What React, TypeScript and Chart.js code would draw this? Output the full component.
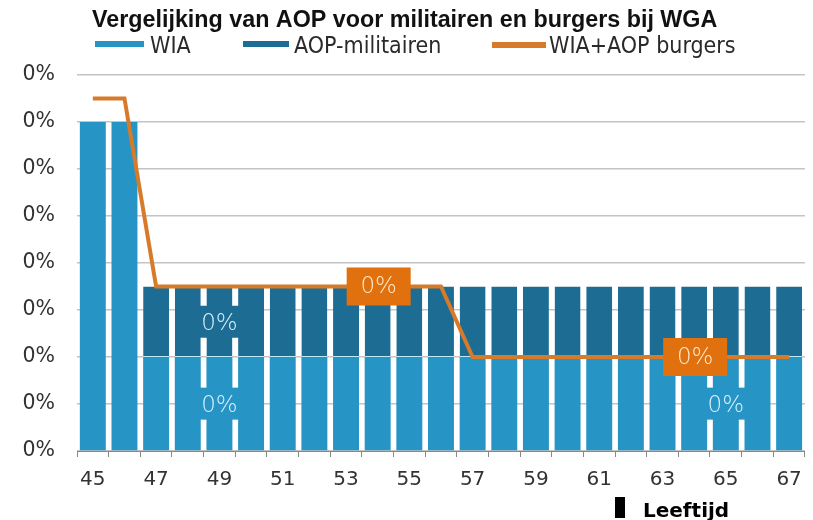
import React, { useEffect, useRef } from "react";
import { Chart, registerables } from "chart.js";

Chart.register(...registerables);

const chartTitle = "Vergelijking van AOP voor militairen en burgers bij WGA";
const axisTitle = "Leeftijd";
const categories = ["45", "46", "47", "48", "49", "50", "51", "52", "53", "54", "55", "56", "57", "58", "59", "60", "61", "62", "63", "64", "65", "66", "67"];
const wiaValues = [0.0035, 0.0035, 0.001, 0.001, 0.001, 0.001, 0.001, 0.001, 0.001, 0.001, 0.001, 0.001, 0.001, 0.001, 0.001, 0.001, 0.001, 0.001, 0.001, 0.001, 0.001, 0.001, 0.001];
const aopMilitairenValues = [0, 0, 0.00075, 0.00075, 0.00075, 0.00075, 0.00075, 0.00075, 0.00075, 0.00075, 0.00075, 0.00075, 0.00075, 0.00075, 0.00075, 0.00075, 0.00075, 0.00075, 0.00075, 0.00075, 0.00075, 0.00075, 0.00075];
const burgersValues = [0.00375, 0.00375, 0.00175, 0.00175, 0.00175, 0.00175, 0.00175, 0.00175, 0.00175, 0.00175, 0.00175, 0.00175, 0.001, 0.001, 0.001, 0.001, 0.001, 0.001, 0.001, 0.001, 0.001, 0.001, 0.001];
const wiaLabelIdx = [4, 20];
const aopLabelIdx = [4];
const burgersLabelIdx = [9, 19];
const yMax = 0.004;
const yStep = 0.0005;

const WIA_COLOR = "#2695c6";
const AOP_COLOR = "#1c6c93";
const LINE_COLOR = "#d77a2a";
const BOX_COLOR = "#e0710e";

const pct = (v: number) => (v * 100).toFixed(0) + "%";

export default function App() {
  const ref = useRef<HTMLCanvasElement | null>(null);
  useEffect(() => {
    document.body.style.margin = "0";
    const canvas = ref.current!;
    const decor = {
      id: "decor",
      afterDatasetsDraw(chart: any) {
        const ctx = chart.ctx;
        ctx.save();
        ctx.textAlign = "center";
        ctx.textBaseline = "middle";
        ctx.font = "200 23px 'DejaVu Sans'";
        const drawBarLabel = (dsIndex: number, idxs: number[], bg: string, fg: string) => {
          const meta = chart.getDatasetMeta(dsIndex);
          idxs.forEach((i) => {
            const el: any = meta.data[i];
            const cy = (el.y + el.base) / 2;
            const v = chart.data.datasets[dsIndex].data[i];
            ctx.fillStyle = bg;
            ctx.fillRect(el.x - 26, cy - 16, 52, 32);
            ctx.fillStyle = fg;
            ctx.fillText(pct(v), el.x, cy + 2);
          });
        };
        drawBarLabel(0, wiaLabelIdx, WIA_COLOR, "#d8f2ff");
        drawBarLabel(1, aopLabelIdx, AOP_COLOR, "#d8f2ff");
        const lm = chart.getDatasetMeta(2);
        burgersLabelIdx.forEach((i) => {
          const el: any = lm.data[i];
          const v = chart.data.datasets[2].data[i];
          ctx.fillStyle = BOX_COLOR;
          ctx.fillRect(el.x - 31, el.y - 19, 64, 38);
          ctx.fillStyle = "#ffe9cc";
          ctx.fillText(pct(v), el.x + 1, el.y + 1);
        });
        ctx.restore();
      },
      afterDraw(chart: any) {
        const ctx = chart.ctx;
        ctx.save();
        ctx.fillStyle = "#111";
        ctx.textBaseline = "alphabetic";
        ctx.textAlign = "left";
        ctx.font = "bold 23.3px 'Liberation Sans Narrow', 'Liberation Sans'";
        ctx.fillText(chartTitle, 92, 27);
        // legend
        ctx.font = "23px 'DejaVu Sans Condensed', 'DejaVu Sans'";
        ctx.fillStyle = WIA_COLOR;
        ctx.fillRect(95, 41, 49, 6);
        ctx.fillStyle = "#2a2a2a";
        ctx.fillText("WIA", 150, 53);
        ctx.fillStyle = AOP_COLOR;
        ctx.fillRect(243, 41, 46, 6);
        ctx.fillStyle = "#2a2a2a";
        ctx.fillText("AOP-militairen", 294, 53);
        ctx.fillStyle = LINE_COLOR;
        ctx.fillRect(492, 42, 54, 6);
        ctx.fillStyle = "#2a2a2a";
        ctx.fillText("WIA+AOP burgers", 549, 53);
        // axis title
        ctx.fillStyle = "#000";
        ctx.fillRect(615, 497, 10, 21);
        ctx.font = "bold 20px 'DejaVu Sans'";
        ctx.fillText(axisTitle, 643, 517);
        ctx.restore();
      },
    };
    const chart = new Chart(canvas, {
      type: "bar",
      data: {
        labels: categories,
        datasets: [
          {
            type: "bar",
            label: "WIA",
            data: wiaValues,
            backgroundColor: WIA_COLOR,
            stack: "bars",
            order: 2,
          } as any,
          {
            type: "bar",
            label: "AOP-militairen",
            data: aopMilitairenValues,
            backgroundColor: AOP_COLOR,
            borderColor: "#bfeaf7",
            borderWidth: { bottom: 1, top: 0, left: 0, right: 0 },
            borderSkipped: false,
            stack: "bars",
            order: 2,
          } as any,
          {
            type: "line",
            label: "WIA+AOP burgers",
            data: burgersValues,
            borderColor: LINE_COLOR,
            backgroundColor: LINE_COLOR,
            borderWidth: 4,
            pointRadius: 0,
            tension: 0,
            stack: "line",
            order: 0,
          } as any,
        ],
      },
      options: {
        animation: false,
        responsive: false,
        maintainAspectRatio: false,
        layout: { padding: { top: 75, right: 7, left: 0, bottom: 0 } },
        datasets: { bar: { barPercentage: 0.82, categoryPercentage: 1 } } as any,
        plugins: { legend: { display: false }, title: { display: false }, tooltip: { enabled: false } },
        scales: {
          x: {
            stacked: true,
            offset: true,
            grid: { offset: true, drawOnChartArea: false, drawTicks: true, tickLength: 6, color: "#888" },
            border: { display: true, color: "#888", width: 1 },
            ticks: {
              autoSkip: false,
              maxRotation: 0,
              color: "#333",
              padding: 11,
              font: { family: "'DejaVu Sans'", size: 20 },
              callback: (_v: any, i: number) => (i % 2 === 0 ? categories[i] : ""),
            },
            afterFit: (s: any) => {
              s.height = 69;
            },
          },
          y: {
            stacked: true,
            min: 0,
            max: yMax,
            ticks: {
              stepSize: yStep,
              color: "#333",
              padding: 22,
              font: { family: "'DejaVu Sans'", size: 20.5 },
              callback: (v: any) => pct(Number(v)),
            },
            grid: { color: "#c4c4c4", lineWidth: 1.5, drawTicks: false },
            border: { display: false },
            afterFit: (s: any) => {
              s.width = 77;
            },
          },
        },
      },
      plugins: [decor],
    });
    return () => chart.destroy();
  }, []);
  return <canvas ref={ref} width={813} height={520} style={{ display: "block" }} />;
}
